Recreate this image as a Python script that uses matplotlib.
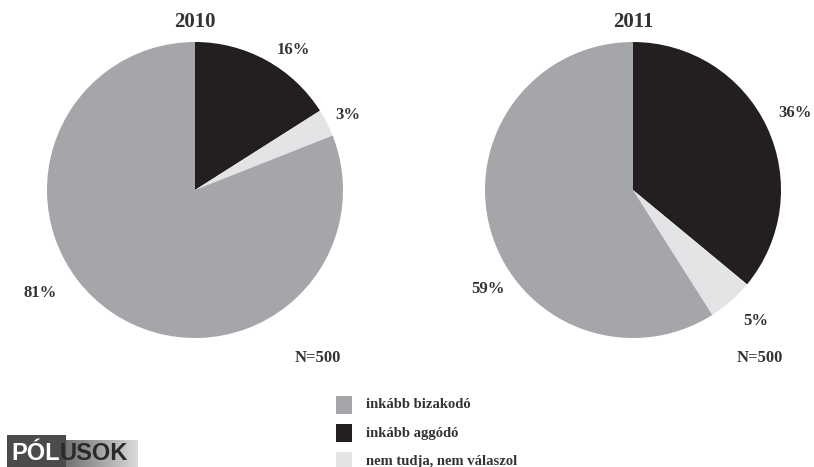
import matplotlib
matplotlib.use("Agg")
import matplotlib.pyplot as plt
import numpy as np
from matplotlib.patches import Rectangle

# Survey results (percent)
categories = ["inkább bizakodó", "inkább aggódó", "nem tudja, nem válaszol"]
years = ["2010", "2011"]
values_2010 = [81, 16, 3]
values_2011 = [59, 36, 5]
sample_note = "N=500"

colors = {"inkább bizakodó": "#a5a6aa",
          "inkább aggódó": "#231f20",
          "nem tudja, nem válaszol": "#e3e4e6"}

W, H = 814, 467
fig = plt.figure(figsize=(W / 100, H / 100), dpi=100)
fig.patch.set_facecolor("white")
serif = ["Liberation Serif", "DejaVu Serif"]
txt_col = "#333333"

# slice order drawn clockwise from 12 o'clock
order = ["inkább aggódó", "nem tudja, nem válaszol", "inkább bizakodó"]


def pie_axes(cx, cy, r):
    return fig.add_axes([(cx - r) / W, 1 - (cy + r) / H, 2 * r / W, 2 * r / H])


def draw_pie(cx, cy, r, year, vals, label_pos, n_pos):
    ax = pie_axes(cx, cy, r)
    d = dict(zip(categories, vals))
    ax.pie([d[c] for c in order], colors=[colors[c] for c in order],
           startangle=90, counterclock=False, radius=1.0,
           wedgeprops=dict(linewidth=0))
    ax.set_xlim(-1, 1)
    ax.set_ylim(-1, 1)
    ax.set_aspect("equal")
    ax.axis("off")
    fig.text(cx / W, 1 - 22 / H, year, ha="center", va="center",
             fontsize=15, fontweight="bold", family=serif, color=txt_col)
    for c, (x, y) in label_pos.items():
        fig.text(x / W, 1 - y / H, f"{d[c]}%", ha="center", va="center",
                 fontsize=12, fontweight="bold", family=serif, color=txt_col)
    fig.text(n_pos[0] / W, 1 - n_pos[1] / H, sample_note, ha="center",
             va="center", fontsize=12, fontweight="bold", family=serif,
             color=txt_col)


draw_pie(195, 190, 148, years[0], values_2010,
         {"inkább aggódó": (293, 50), "nem tudja, nem válaszol": (348, 115),
          "inkább bizakodó": (40, 293)}, (318, 358))
draw_pie(633, 190, 148, years[1], values_2011,
         {"inkább aggódó": (795, 113), "nem tudja, nem válaszol": (756, 321),
          "inkább bizakodó": (488, 289)}, (760, 358))

# legend
for i, c in enumerate(categories):
    y = 405 + i * 28
    fig.patches.append(Rectangle((336 / W, 1 - (y + 9) / H), 16 / W, 18 / H,
                                 transform=fig.transFigure,
                                 facecolor=colors[c], edgecolor="none"))
    fig.text(366 / W, 1 - y / H, c, ha="left", va="center", fontsize=10.5,
             fontweight="bold", family=serif, color=txt_col)

# logo: dark block behind the first letters, grey gradient behind the rest
fig.patches.append(Rectangle((7 / W, 0), 59 / W, 32 / H, transform=fig.transFigure,
                             facecolor="#4b4b4b", edgecolor="none"))
grad_ax = fig.add_axes([66 / W, 0, 72 / W, 27 / H])
grad_ax.imshow(np.linspace(0.45, 0.85, 50).reshape(1, -1), cmap="gray",
               vmin=0, vmax=1, aspect="auto", extent=(0, 1, 0, 1))
grad_ax.axis("off")
fig.text(11 / W, 1 - 453 / H, "PÓL", ha="left", va="center", fontsize=17,
         fontweight="bold", family=["Liberation Sans"], color="white")
fig.text(60 / W, 1 - 453 / H, "USOK", ha="left", va="center", fontsize=17,
         fontweight="bold", family=["Liberation Sans"], color="#2a2a2a")

fig.savefig("out.png", dpi=100, facecolor="white")
